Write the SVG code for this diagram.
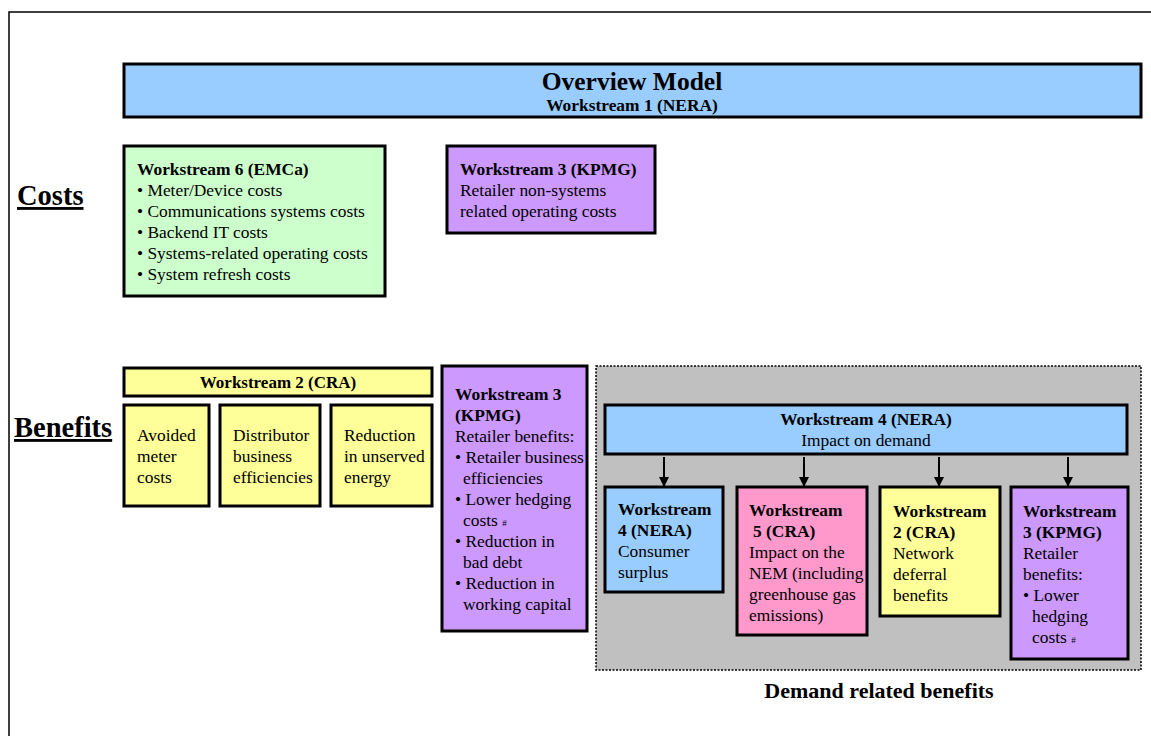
<svg xmlns="http://www.w3.org/2000/svg" width="1151" height="736" viewBox="0 0 1151 736">
<style>
text{font-family:"Liberation Serif","Times New Roman",serif;fill:#000}
.b{font-weight:bold}
.t{font-size:17.4px}
.box{stroke:#000;stroke-width:3}
.blue{fill:#99CCFF}.green{fill:#CCFFCC}.purple{fill:#CC99FF}.yellow{fill:#FFFF99}.pink{fill:#FF99CC}
.hd{font-size:28.5px;font-weight:bold;text-decoration:underline}
.sm{font-size:9px}
</style>
<defs>
<marker id="arr" markerWidth="10" markerHeight="10" refX="9" refY="5" orient="auto" markerUnits="userSpaceOnUse" viewBox="0 0 10 10">
<path d="M0,0 L10,5 L0,10 Z" fill="#000"/>
</marker>
</defs>
<rect width="1151" height="736" fill="#fff"/>
<path d="M9,736 L9,12 L1151,12" fill="none" stroke="#000" stroke-width="1.5"/>

<g id="overview">
<rect class="box blue" x="124" y="64" width="1017" height="53"/>
<text class="b" x="632" y="90" font-size="25.5" text-anchor="middle">Overview Model</text>
<text class="b" x="632" y="111" font-size="17.4" text-anchor="middle">Workstream 1 (NERA)</text>
</g>

<text id="costs" class="hd" x="17" y="205">Costs</text>
<text id="benefits" class="hd" x="14" y="437">Benefits</text>

<g id="ws6">
<rect class="box green" x="124" y="146" width="261" height="150"/>
<text class="t" x="137" y="175"><tspan class="b">Workstream 6 (EMCa)</tspan><tspan x="137" dy="21">• Meter/Device costs</tspan><tspan x="137" dy="21">• Communications systems costs</tspan><tspan x="137" dy="21">• Backend IT costs</tspan><tspan x="137" dy="21">• Systems-related operating costs</tspan><tspan x="137" dy="21">• System refresh costs</tspan></text>
</g>

<g id="ws3cost">
<rect class="box purple" x="447" y="146" width="208" height="87"/>
<text class="t" x="460" y="175"><tspan class="b">Workstream 3 (KPMG)</tspan><tspan x="460" dy="21">Retailer non-systems</tspan><tspan x="460" dy="21">related operating costs</tspan></text>
</g>

<g id="ws2bar">
<rect class="box yellow" x="124" y="368" width="308" height="28"/>
<text class="b" x="278" y="388" font-size="17" text-anchor="middle">Workstream 2 (CRA)</text>
</g>
<g id="avoided">
<rect class="box yellow" x="124" y="405" width="85" height="101"/>
<text class="t" x="137" y="441"><tspan>Avoided</tspan><tspan x="137" dy="21">meter</tspan><tspan x="137" dy="21">costs</tspan></text>
</g>
<g id="distributor">
<rect class="box yellow" x="220" y="405" width="100" height="101"/>
<text class="t" x="233" y="441"><tspan>Distributor</tspan><tspan x="233" dy="21">business</tspan><tspan x="233" dy="21">efficiencies</tspan></text>
</g>
<g id="reduction">
<rect class="box yellow" x="331" y="405" width="101" height="101"/>
<text class="t" x="344" y="441"><tspan>Reduction</tspan><tspan x="344" dy="21">in unserved</tspan><tspan x="344" dy="21">energy</tspan></text>
</g>

<g id="ws3ben">
<rect class="box purple" x="442" y="366" width="145" height="265"/>
<text class="t" x="455" y="400"><tspan class="b">Workstream 3</tspan><tspan class="b" x="455" dy="21">(KPMG)</tspan><tspan x="455" dy="21">Retailer benefits:</tspan><tspan x="455" dy="21">• Retailer business</tspan><tspan x="463" dy="21">efficiencies</tspan><tspan x="455" dy="21">• Lower hedging</tspan><tspan x="463" dy="21">costs <tspan class="sm">#</tspan></tspan><tspan x="455" dy="21">• Reduction in</tspan><tspan x="463" dy="21">bad debt</tspan><tspan x="455" dy="21">• Reduction in</tspan><tspan x="463" dy="21">working capital</tspan></text>
</g>

<g id="demand">
<rect x="596" y="366" width="545" height="304" fill="#C0C0C0" stroke="#000" stroke-width="1.5" stroke-dasharray="2,1.5"/>
<text class="b" x="879" y="698" font-size="22" text-anchor="middle">Demand related benefits</text>
</g>

<g id="ws4bar">
<rect class="box blue" x="605" y="405" width="522" height="49"/>
<text class="b" x="866" y="425" font-size="17.4" text-anchor="middle">Workstream 4 (NERA)</text>
<text x="866" y="446" font-size="17.4" text-anchor="middle">Impact on demand</text>
</g>

<g id="connectors" stroke="#000" stroke-width="2" fill="none">
<line x1="664" y1="457" x2="664" y2="486" marker-end="url(#arr)"/>
<line x1="804" y1="457" x2="804" y2="486" marker-end="url(#arr)"/>
<line x1="939" y1="457" x2="939" y2="486" marker-end="url(#arr)"/>
<line x1="1068" y1="457" x2="1068" y2="486" marker-end="url(#arr)"/>
</g>

<g id="ws4cs">
<rect class="box blue" x="605" y="487" width="118" height="105"/>
<text class="t" x="618" y="515"><tspan class="b">Workstream</tspan><tspan class="b" x="618" dy="21">4 (NERA)</tspan><tspan x="618" dy="21">Consumer</tspan><tspan x="618" dy="21">surplus</tspan></text>
</g>
<g id="ws5">
<rect class="box pink" x="737" y="487" width="130" height="148"/>
<text class="t" x="749" y="516"><tspan class="b">Workstream</tspan><tspan class="b" x="753" dy="21">5 (CRA)</tspan><tspan x="749" dy="21">Impact on the</tspan><tspan x="749" dy="21">NEM (including</tspan><tspan x="749" dy="21">greenhouse gas</tspan><tspan x="749" dy="21">emissions)</tspan></text>
</g>
<g id="ws2net">
<rect class="box yellow" x="880" y="487" width="120" height="129"/>
<text class="t" x="893" y="517"><tspan class="b">Workstream</tspan><tspan class="b" x="893" dy="21">2 (CRA)</tspan><tspan x="893" dy="21">Network</tspan><tspan x="893" dy="21">deferral</tspan><tspan x="893" dy="21">benefits</tspan></text>
</g>
<g id="ws3hedge">
<rect class="box purple" x="1011" y="487" width="117" height="172"/>
<text class="t" x="1023" y="517"><tspan class="b">Workstream</tspan><tspan class="b" x="1023" dy="21">3 (KPMG)</tspan><tspan x="1023" dy="21">Retailer</tspan><tspan x="1023" dy="21">benefits:</tspan><tspan x="1023" dy="21">• Lower</tspan><tspan x="1032" dy="21">hedging</tspan><tspan x="1032" dy="21">costs <tspan class="sm">#</tspan></tspan></text>
</g>
</svg>
